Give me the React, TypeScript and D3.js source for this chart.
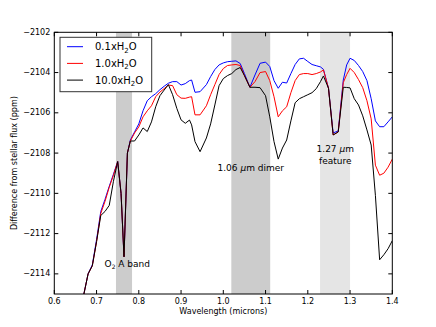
import * as d3 from 'd3'

const width = 436,
      height = 327,
      margin = { top: 32.3, right: 43.7, bottom: 33, left: 54.3 },
      innerWidth = width - margin.left - margin.right,
      innerHeight = height - margin.top - margin.bottom

const wavelength = [
  0.66, 0.67, 0.68, 0.69, 0.70, 0.71, 0.72, 0.73, 0.74, 0.75, 0.758, 0.765, 0.773, 0.78,
  0.79, 0.80, 0.81, 0.82, 0.83, 0.84, 0.85, 0.86, 0.87, 0.88, 0.89, 0.90, 0.91, 0.92,
  0.925, 0.933, 0.945, 0.96, 0.97, 0.98, 0.99, 1.00, 1.01, 1.02, 1.03, 1.04, 1.05, 1.063,
  1.075, 1.087, 1.10, 1.11, 1.12, 1.13, 1.14, 1.15, 1.16, 1.17, 1.18, 1.19, 1.20, 1.21,
  1.22, 1.23, 1.237, 1.249, 1.26, 1.272, 1.284, 1.292, 1.30, 1.31, 1.32, 1.33, 1.34, 1.35,
  1.36, 1.37, 1.38, 1.39, 1.40
]

const h2o01 = [
  -2116.5, -2115.0, -2114.0, -2113.55, -2112.3, -2110.9, -2110.3, -2109.65, -2109.05, -2108.42, -2110.0, -2113.15, -2108.0, -2107.35,
  -2106.95, -2106.55, -2105.9, -2105.4, -2105.2, -2105.05, -2104.85, -2104.68, -2104.53, -2104.45, -2104.45, -2104.62, -2104.55, -2104.4,
  -2104.37, -2104.98, -2104.95, -2104.6, -2104.2, -2103.85, -2103.62, -2103.52, -2103.46, -2103.44, -2103.42, -2103.55, -2104.05, -2104.73,
  -2104.12, -2103.54, -2103.48, -2103.7, -2104.4, -2104.78, -2104.48, -2104.52, -2104.05, -2103.6, -2103.32, -2103.29, -2103.45, -2103.6,
  -2103.66, -2103.72, -2103.84, -2104.78, -2107.0, -2106.9, -2104.37, -2103.62, -2103.29, -2103.4, -2103.65, -2103.95, -2104.4, -2105.3,
  -2106.4, -2106.69, -2106.69, -2106.45, -2106.2
]

const h2o1 = [
  -2116.5, -2115.0, -2114.0, -2113.6, -2112.4, -2111.0, -2110.4, -2109.7, -2109.1, -2108.42, -2110.0, -2113.15, -2108.0, -2107.4,
  -2107.0, -2106.7, -2106.2, -2105.9, -2105.65, -2105.2, -2104.97, -2104.8, -2104.62, -2104.65, -2105.1, -2105.27, -2105.28, -2105.22,
  -2105.2, -2106.1, -2106.1, -2105.65, -2105.1, -2104.6, -2104.1, -2103.8, -2103.65, -2103.62, -2103.6, -2103.65, -2104.15, -2104.73,
  -2104.45, -2104.0, -2103.95, -2104.4, -2105.2, -2106.2, -2105.9, -2105.7, -2105.0, -2104.4, -2104.1, -2104.05, -2104.05, -2104.1,
  -2104.05, -2103.97, -2103.87, -2104.78, -2107.1, -2106.95, -2104.5, -2104.1, -2103.79, -2104.0, -2104.35, -2104.75, -2105.4, -2106.3,
  -2108.6, -2109.1, -2109.0, -2108.7, -2108.3
]

const h2o10 = [
  -2116.5, -2115.0, -2114.0, -2113.6, -2112.4, -2111.1, -2110.9, -2110.6, -2109.4, -2108.42, -2110.0, -2113.15, -2108.0, -2107.4,
  -2107.4, -2107.1, -2106.75, -2106.93, -2106.45, -2105.7, -2105.15, -2104.87, -2104.6, -2105.1, -2105.78, -2106.35, -2106.52, -2106.36,
  -2106.6, -2107.43, -2107.93, -2107.25, -2106.55, -2105.61, -2104.65, -2104.3, -2104.15, -2104.05, -2103.85, -2103.75, -2104.15, -2104.73,
  -2104.73, -2104.75, -2105.15, -2106.2, -2107.43, -2108.3, -2107.75, -2107.35, -2106.4, -2105.5, -2105.3, -2105.2, -2105.1, -2105.0,
  -2104.8, -2104.45, -2104.17, -2104.78, -2107.1, -2106.95, -2104.73, -2104.74, -2104.76, -2105.3, -2105.61, -2106.15, -2106.85, -2107.6,
  -2110.1, -2113.3, -2113.05, -2112.75, -2112.35
]

const seriesNames = ['0.1xH', '1.0xH', '10.0xH']
const seriesValues = [h2o01, h2o1, h2o10]
const seriesColors = ['#0000ff', '#ff0000', '#000000']

const bandStarts = [0.746, 1.019, 1.229]
const bandEnds = [0.784, 1.111, 1.300]
const bandColors = ['#cccccc', '#cccccc', '#e5e5e5']

const xTicks = [0.6, 0.7, 0.8, 0.9, 1.0, 1.1, 1.2, 1.3, 1.4]
const yTicks = [-2114, -2112, -2110, -2108, -2106, -2104, -2102]

const font = 'DejaVu Sans, sans-serif'

export default function App() {
  const xScale = d3.scaleLinear().domain([0.6, 1.4]).range([0, innerWidth])
  const yScale = d3.scaleLinear().domain([-2115, -2102]).range([innerHeight, 0])

  const line = d3.line<number>()
    .x((_, i) => xScale(wavelength[i]))
    .y(d => yScale(d))

  const minus = (v: number) => String(v).replace('-', '\u2212')

  return (
    <svg width={width} height={height} style={{ position: 'absolute', left: 0, top: 0, background: '#fff' }}>
      <defs>
        <clipPath id='plotclip'>
          <rect width={innerWidth} height={innerHeight} />
        </clipPath>
      </defs>
      <g transform={`translate(${margin.left}, ${margin.top})`} fontFamily={font}>
        <rect width={innerWidth} height={innerHeight} fill='#fff' />

        {bandStarts.map((b, i) => (
          <rect key={i} x={xScale(b)} y={0} width={xScale(bandEnds[i]) - xScale(b)}
            height={innerHeight} fill={bandColors[i]} />
        ))}

        <g clipPath='url(#plotclip)'>
          {seriesValues.map((vals, i) => (
            <path key={i} d={line(vals) ?? ''} fill='none' stroke={seriesColors[i]} strokeWidth={1} />
          ))}
        </g>

        {/* annotations */}
        <text x={xScale(0.719)} y={yScale(-2113.65)} fontSize={9} fill='#000'>
          O<tspan fontSize={6} dy={2}>2</tspan><tspan dy={-2}> A band</tspan>
        </text>
        <text x={xScale(1.065)} y={yScale(-2108.9)} fontSize={9} textAnchor='middle' fill='#000'>
          1.06 <tspan fontStyle='italic'>μ</tspan>m dimer
        </text>
        <text x={xScale(1.265)} y={yScale(-2107.95)} fontSize={9} textAnchor='middle' fill='#000'>
          1.27 <tspan fontStyle='italic'>μ</tspan>m
        </text>
        <text x={xScale(1.265)} y={yScale(-2108.55)} fontSize={9} textAnchor='middle' fill='#000'>
          feature
        </text>

        {/* frame */}
        <rect width={innerWidth} height={innerHeight} fill='none' stroke='#000' strokeWidth={1} />

        {xTicks.map(t => (
          <g key={t} transform={`translate(${xScale(t)}, 0)`}>
            <line y1={0} y2={4} stroke='#000' />
            <line y1={innerHeight} y2={innerHeight - 4} stroke='#000' />
            <text y={innerHeight + 10.5} textAnchor='middle' fontSize={8}>{t.toFixed(1)}</text>
          </g>
        ))}
        {yTicks.map(t => (
          <g key={t} transform={`translate(0, ${yScale(t)})`}>
            <line x1={0} x2={4} stroke='#000' />
            <line x1={innerWidth} x2={innerWidth - 4} stroke='#000' />
            <text x={-4} dy='0.32em' textAnchor='end' fontSize={8}>{minus(t)}</text>
          </g>
        ))}

        <text x={innerWidth / 2} y={innerHeight + 20} textAnchor='middle' fontSize={8}>Wavelength (microns)</text>
        <text transform={`translate(${-37.5}, ${innerHeight / 2}) rotate(-90)`} textAnchor='middle' fontSize={8}>
          Difference from stellar flux (ppm)
        </text>

        {/* legend */}
        <g transform='translate(5.7, 5)'>
          <rect width={91.7} height={54.4} fill='#fff' stroke='#333' strokeWidth={1} />
          {seriesNames.map((n, i) => (
            <g key={n} transform={`translate(0, ${9.4 + i * 16.7})`}>
              <line x1={7} x2={23} stroke={seriesColors[i]} strokeWidth={1} />
              <text x={35} dy='0.35em' fontSize={10}>
                {n}<tspan fontSize={7} dy={2.5}>2</tspan><tspan dy={-2.5}>O</tspan>
              </text>
            </g>
          ))}
        </g>
      </g>
    </svg>
  )
}
